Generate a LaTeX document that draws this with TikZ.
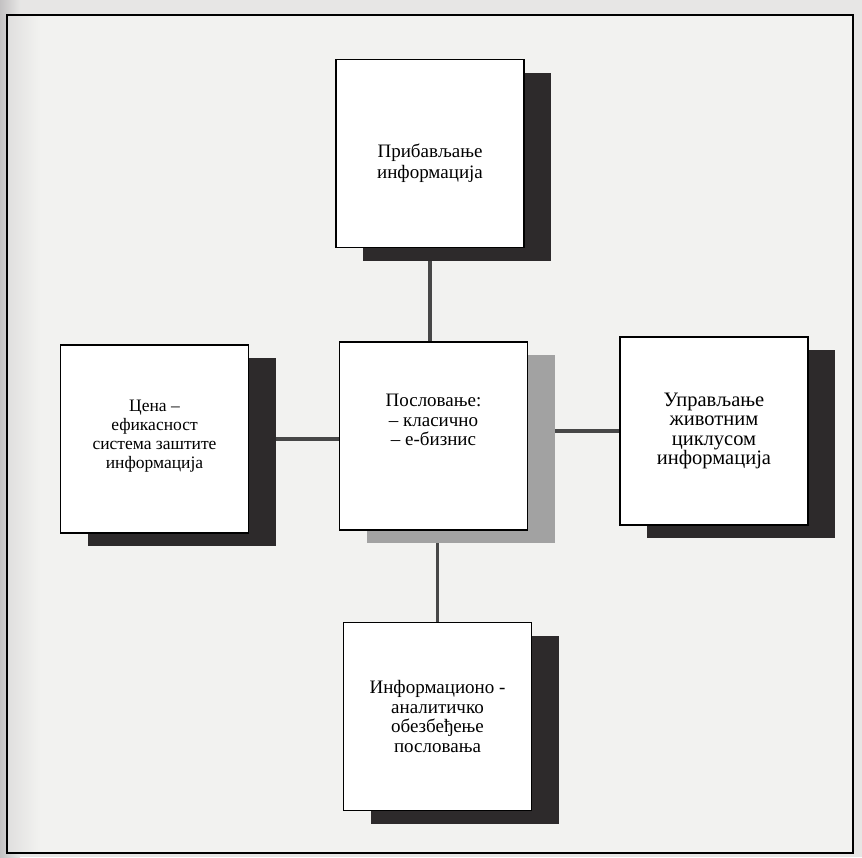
\documentclass[tikz,border=0pt]{standalone}
\usepackage{fontspec}
\setmainfont{Liberation Serif}
\usetikzlibrary{shadows,backgrounds}

\definecolor{paper}{HTML}{F2F2F0}
\definecolor{edge}{HTML}{C4C2C3}
\definecolor{shade}{HTML}{2D2A2B}
\definecolor{stipple}{HTML}{A2A2A2}
\definecolor{wire}{HTML}{474747}

\begin{document}
\begin{tikzpicture}[x=1pt,y=-1pt,
    box/.style={draw=black, line width=1.6pt, fill=white, inner sep=0pt,
      minimum width=188pt, minimum height=188pt, align=center,
      font=\fontsize{19}{19.5}\selectfont},
    darkbox/.style={box, drop shadow={shadow xshift=27pt, shadow yshift=-13pt, fill=shade, opacity=1}},
    litebox/.style={box, drop shadow={shadow xshift=27pt, shadow yshift=-13pt, fill=stipple, opacity=1}},
    wire/.style={draw=wire, line width=3.5pt}]
  \useasboundingbox (0,0) rectangle (862,857);

  % page and frame
  \begin{scope}[on background layer]
    \fill[paper!75!edge] (0,0) rectangle (862,857);
    \shade[left color=edge, right color=paper!75!edge] (0,0) rectangle (20,857);
    \fill[paper] (7,15) rectangle (853,853);
    \shade[left color=paper!60!edge, right color=paper] (7,15) rectangle (40,853);
    \draw[line width=2pt] (7,15) rectangle (853,853);
  \end{scope}

  \node[darkbox, font=\fontsize{19}{21.5}\selectfont] (get) at (430,153.5) {\mbox{}\\[12pt]Прибављање\\информација};
  \node[darkbox, font=\fontsize{17.5}{19}\selectfont] (cost) at (154.5,439) {Цена –\\ефикасност\\система заштите\\информација\\[-9pt]};
  \node[litebox] (biz) at (433.5,436) {Пословање:\\– класично\\– е-бизнис\\[12pt]};
  \node[darkbox, font=\fontsize{20.5}{19.5}\selectfont] (life) at (714,431) {Управљање\\животним\\циклусом\\информација};
  \node[darkbox] (info) at (437.5,716.5) {Информационо -\\аналитичко\\обезбеђење\\пословања};

  % connectors under the shadows
  \begin{scope}[on background layer]
    \draw[wire] (get.south) -- (get.south |- biz.north);
    \draw[wire] (cost.east) -- (cost.east -| biz.west);
    \draw[wire] (life.west -| biz.east) -- (life.west);
    \draw[wire] (info.north) -- (info.north |- biz.south);
  \end{scope}
\end{tikzpicture}
\end{document}
